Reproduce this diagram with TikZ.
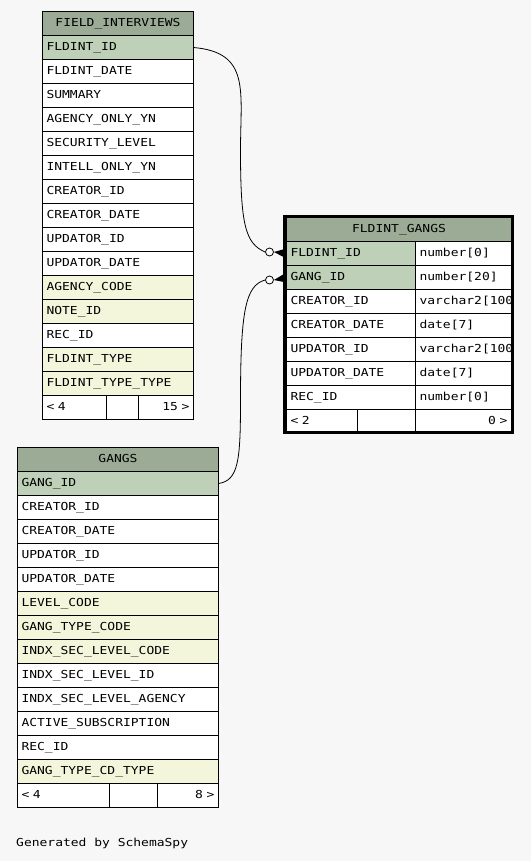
\documentclass[tikz,border=0pt]{standalone}
\usepackage{fontspec}
\setmonofont[FakeStretch=1.18]{DejaVu Sans Mono}
\usetikzlibrary{arrows.meta}

\definecolor{pagebg}{HTML}{F7F7F7}
\definecolor{headbg}{HTML}{9BAB96}
\definecolor{pkbg}{HTML}{BED1B8}
\definecolor{idxbg}{HTML}{F4F6DC}

\begin{document}
\begin{tikzpicture}[x=1pt, y=-1pt,
    cell/.style={draw=black, line width=1pt, anchor=north west, outer sep=0pt,
        inner xsep=4pt, inner ysep=0pt, minimum height=24pt,
        text height=8pt, text depth=2pt, align=left, fill=white,
        font=\ttfamily\fontsize{11}{13}\selectfont},
    colplain/.style={fill=white},
    colpk/.style={fill=pkbg},
    colidx/.style={fill=idxbg},
    headcell/.style={cell, fill=headbg, align=center},
    conn/.style={line width=0.8pt},
    odot/.style={circle, draw=black, fill=white, line width=0.8pt,
        minimum size=8pt, inner sep=0pt}]

    % 背景与边界
    \useasboundingbox (0,0) rectangle (531,861);
    \fill[pagebg] (0,0) rectangle (531,861);

    \begin{scope}[shift={(0.5,0.5)}]
    % 表 FIELD_INTERVIEWS
    \node[headcell, text width=143pt] (fi-head) at (42,11) {FIELD\_INTERVIEWS};
    \foreach \col/\kind [count=\i from 0] in {FLDINT\_ID/colpk, FLDINT\_DATE/colplain,
        SUMMARY/colplain, AGENCY\_ONLY\_YN/colplain, SECURITY\_LEVEL/colplain,
        INTELL\_ONLY\_YN/colplain, CREATOR\_ID/colplain, CREATOR\_DATE/colplain,
        UPDATOR\_ID/colplain, UPDATOR\_DATE/colplain, AGENCY\_CODE/colidx,
        NOTE\_ID/colidx, REC\_ID/colplain, FLDINT\_TYPE/colidx, FLDINT\_TYPE\_TYPE/colidx}
        \node[cell, \kind, text width=143pt] (fi-\i) at (42, 35+24*\i) {\col};
    \node[cell, text width=56pt] (fi-foot1) at (42,395) {< 4};
    \node[cell, text width=24pt] (fi-foot2) at (106,395) {};
    \node[cell, text width=47pt, align=right] (fi-foot3) at (138,395) {15 >};

    % 表 GANGS
    \node[headcell, text width=193pt] (ga-head) at (17,447) {GANGS};
    \foreach \col/\kind [count=\i from 0] in {GANG\_ID/colpk, CREATOR\_ID/colplain,
        CREATOR\_DATE/colplain, UPDATOR\_ID/colplain, UPDATOR\_DATE/colplain,
        LEVEL\_CODE/colidx, GANG\_TYPE\_CODE/colidx, INDX\_SEC\_LEVEL\_CODE/colidx,
        INDX\_SEC\_LEVEL\_ID/colplain, INDX\_SEC\_LEVEL\_AGENCY/colplain,
        ACTIVE\_SUBSCRIPTION/colplain, REC\_ID/colplain, GANG\_TYPE\_CD\_TYPE/colidx}
        \node[cell, \kind, text width=193pt] (ga-\i) at (17, 471+24*\i) {\col};
    \node[cell, text width=84pt] (ga-foot1) at (17,783) {< 4};
    \node[cell, text width=40pt] (ga-foot2) at (109,783) {};
    \node[cell, text width=53pt, align=right] (ga-foot3) at (157,783) {8 >};

    % 表 FLDINT_GANGS
    \node[headcell, text width=217pt] (fg-head) at (286,217) {FLDINT\_GANGS};
    \foreach \col/\kind [count=\i from 0] in {FLDINT\_ID/colpk, GANG\_ID/colpk,
        CREATOR\_ID/colplain, CREATOR\_DATE/colplain, UPDATOR\_ID/colplain,
        UPDATOR\_DATE/colplain, REC\_ID/colplain}
        \node[cell, \kind, text width=121pt] (fg-\i) at (286, 241+24*\i) {\col};
    % 类型列 (超出部分被裁掉)
    \begin{scope}
        \clip (415,240) rectangle (510,410);
        \foreach \typ [count=\i from 0] in {number[0], number[20], varchar2[100],
            date[7], varchar2[100], date[7], number[0]}
            \node[cell, text width=88pt] (fg-t\i) at (415, 241+24*\i) {\mbox{\typ}};
    \end{scope}
    \node[cell, text width=63pt] (fg-foot1) at (286,409) {< 2};
    \node[cell, text width=50pt] (fg-foot2) at (357,409) {};
    \node[cell, text width=88pt, align=right] (fg-foot3) at (415,409) {0 >};
    \draw[line width=3pt] (284,216) rectangle (512,432);

    % 连线: FLDINT_ID
    \node[odot] (fi-odot) at (269,251.5) {};
    \draw[conn] (fi-0.east) .. controls (250,52) and (240,90) .. (240,150)
        .. controls (240,225) and (245,243) .. (fi-odot.west);
    \fill (fi-odot.east) -- ([yshift=5pt]fg-0.west) -- ([yshift=-5pt]fg-0.west) -- cycle;

    % 连线: GANG_ID
    \node[odot] (ga-odot) at (269,279.5) {};
    \draw[conn] (ga-0.east) .. controls (238,480) and (240,460) .. (240,400)
        .. controls (240,310) and (245,285) .. (ga-odot.west);
    \fill (ga-odot.east) -- ([yshift=5pt]fg-1.west) -- ([yshift=-5pt]fg-1.west) -- cycle;
    \end{scope}

    % 页脚
    \node[anchor=base west, inner sep=0pt, font=\ttfamily\fontsize{11}{13}\selectfont]
        (credit) at (16,846.5) {Generated by SchemaSpy};
\end{tikzpicture}
\end{document}
